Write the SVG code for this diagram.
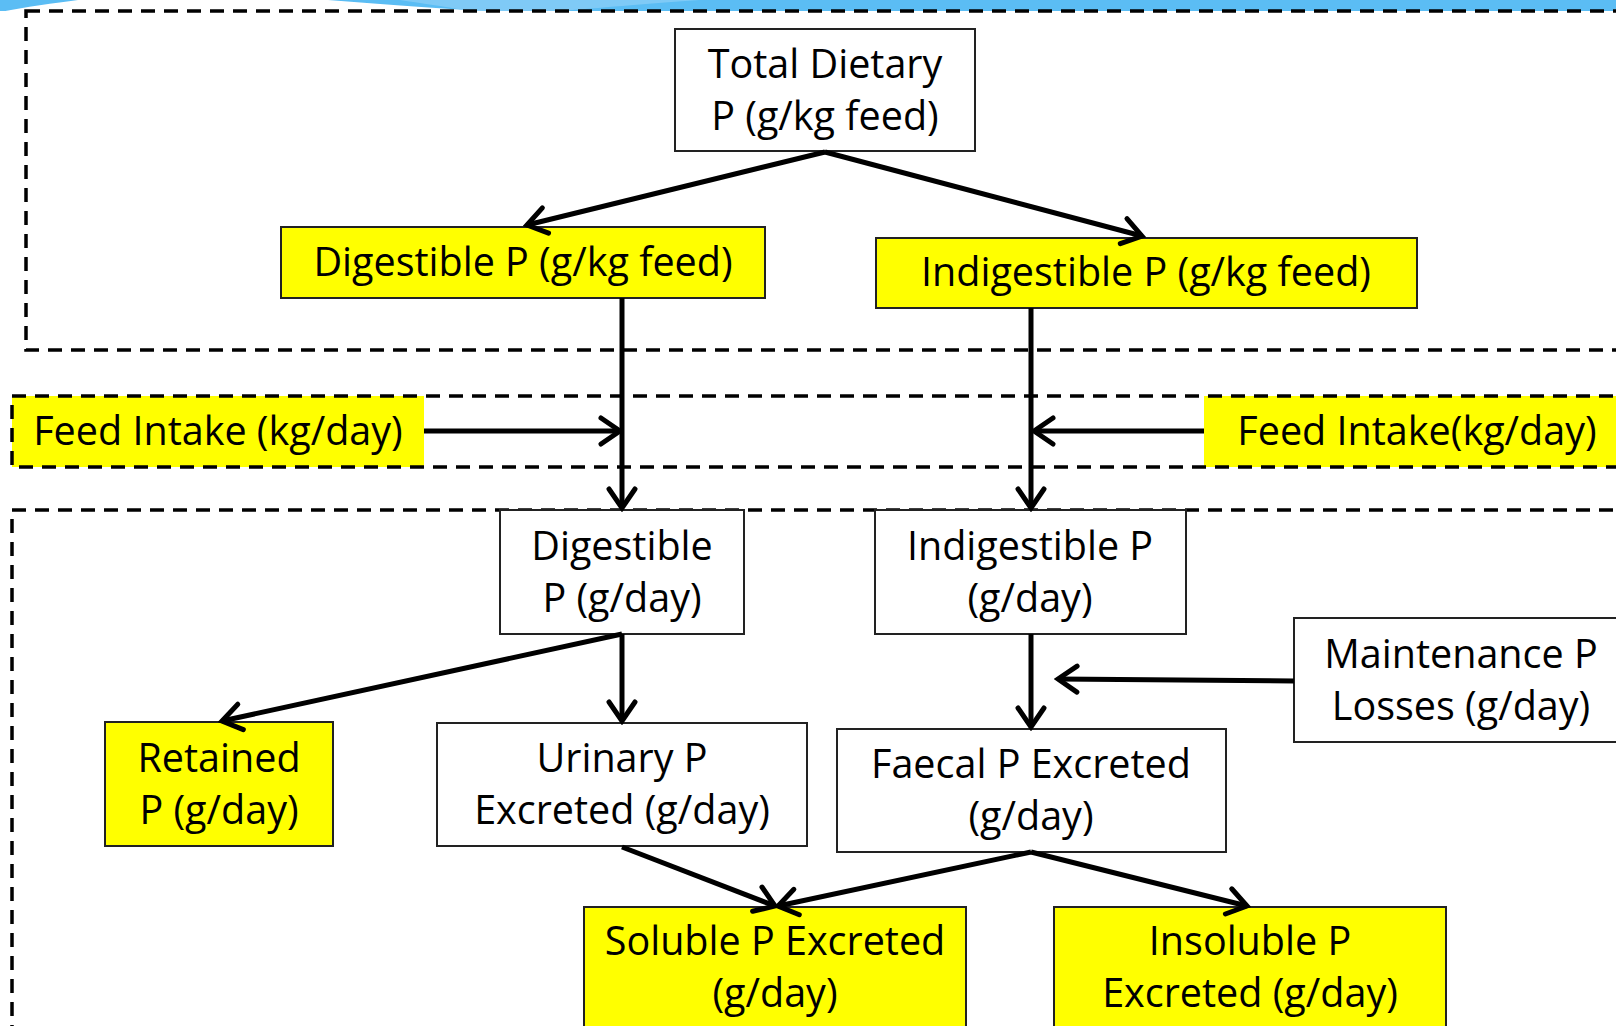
<svg xmlns="http://www.w3.org/2000/svg" width="1616" height="1026" viewBox="0 0 1616 1026">
<style>
.box{stroke:#222;stroke-width:2}
.w{fill:#fff}
.y{fill:#ffff00}
.t{font-family:"Open Sans","Noto Sans",sans-serif;font-size:39.5px;fill:#000;text-anchor:middle}
.dash{fill:none;stroke:#000;stroke-width:3.5;stroke-dasharray:14 9}
.c{fill:none;stroke:#000;stroke-width:5;marker-end:url(#ah)}
</style>
<defs>
<marker id="ah" markerUnits="userSpaceOnUse" viewBox="-26 -18 30 36" refX="0" refY="0" markerWidth="30" markerHeight="36" orient="auto">
<path d="M-19,-13 L0,0 L-19,13" fill="none" stroke="#000" stroke-width="5" stroke-linecap="round" stroke-linejoin="miter"/>
</marker>
</defs>
<rect x="0" y="0" width="1616" height="1026" fill="#fff"/>
<g id="background">
<rect x="0" y="0" width="1616" height="11" fill="#5bbdf4"/>
<path d="M0,12 C25,7 55,3 78,0 L328,0 C380,4 430,8 500,12 Z" fill="#fff"/>
<path d="M400,0 L700,0 C640,4 600,8 560,11 L470,11 C440,6 420,3 400,0 Z" fill="#8fd0f7" opacity="0.7"/>
</g>
<g id="regions">
<rect x="26" y="11" width="1700" height="339" class="dash"/>
</g>
<g id="feed_left">
<rect x="12" y="396" width="412" height="71" class="y"/>
<text class="t" x="218" y="445">Feed Intake (kg/day)</text>
</g>
<g id="feed_right">
<rect x="1204" y="396" width="420" height="71" class="y"/>
<text class="t" x="1417" y="445">Feed Intake(kg/day)</text>
</g>
<g id="regions2">
<rect x="12" y="396" width="1700" height="71" class="dash"/>
<rect x="12" y="510" width="1700" height="600" class="dash"/>
</g>
<g id="total">
<rect x="675" y="29" width="300" height="122" class="box w"/>
<text class="t" x="825" y="78">Total Dietary</text>
<text class="t" x="825" y="130">P (g/kg feed)</text>
</g>
<g id="dig_kg">
<rect x="281" y="227" width="484" height="71" class="box y"/>
<text class="t" x="523" y="276">Digestible P (g/kg feed)</text>
</g>
<g id="indig_kg">
<rect x="876" y="238" width="541" height="70" class="box y"/>
<text class="t" x="1146" y="286">Indigestible P (g/kg feed)</text>
</g>
<g id="dig_day">
<rect x="500" y="510" width="244" height="124" class="box w"/>
<text class="t" x="622" y="560">Digestible</text>
<text class="t" x="622" y="612">P (g/day)</text>
</g>
<g id="indig_day">
<rect x="875" y="510" width="311" height="124" class="box w"/>
<text class="t" x="1030" y="560">Indigestible P</text>
<text class="t" x="1030" y="612">(g/day)</text>
</g>
<g id="maint">
<rect x="1294" y="618" width="330" height="124" class="box w"/>
<text class="t" x="1461" y="668">Maintenance P</text>
<text class="t" x="1461" y="720">Losses (g/day)</text>
</g>
<g id="retained">
<rect x="105" y="722" width="228" height="124" class="box y"/>
<text class="t" x="219" y="772">Retained</text>
<text class="t" x="219" y="824">P (g/day)</text>
</g>
<g id="urinary">
<rect x="437" y="723" width="370" height="123" class="box w"/>
<text class="t" x="622" y="772">Urinary P</text>
<text class="t" x="622" y="824">Excreted (g/day)</text>
</g>
<g id="faecal">
<rect x="837" y="729" width="389" height="123" class="box w"/>
<text class="t" x="1031" y="778">Faecal P Excreted</text>
<text class="t" x="1031" y="830">(g/day)</text>
</g>
<g id="soluble">
<rect x="584" y="907" width="382" height="130" class="box y"/>
<text class="t" x="775" y="955">Soluble P Excreted</text>
<text class="t" x="775" y="1007">(g/day)</text>
</g>
<g id="insoluble">
<rect x="1054" y="907" width="392" height="130" class="box y"/>
<text class="t" x="1250" y="955">Insoluble P</text>
<text class="t" x="1250" y="1007">Excreted (g/day)</text>
</g>
<g id="connectors">
<line class="c" x1="825" y1="152" x2="527" y2="225"/>
<line class="c" x1="825" y1="152" x2="1142" y2="236"/>
<line class="c" x1="622" y1="298" x2="622" y2="508"/>
<line class="c" x1="1031" y1="308" x2="1031" y2="508"/>
<line class="c" x1="424" y1="431" x2="620" y2="431"/>
<line class="c" x1="1204" y1="431" x2="1034" y2="431"/>
<line class="c" x1="622" y1="634" x2="222" y2="721"/>
<line class="c" x1="622" y1="634" x2="622" y2="721"/>
<line class="c" x1="1031" y1="634" x2="1031" y2="727"/>
<line class="c" x1="1294" y1="681" x2="1058" y2="679"/>
<line class="c" x1="622" y1="847" x2="775" y2="906"/>
<line class="c" x1="1031" y1="852" x2="778" y2="906"/>
<line class="c" x1="1031" y1="852" x2="1247" y2="906"/>
</g>
</svg>
